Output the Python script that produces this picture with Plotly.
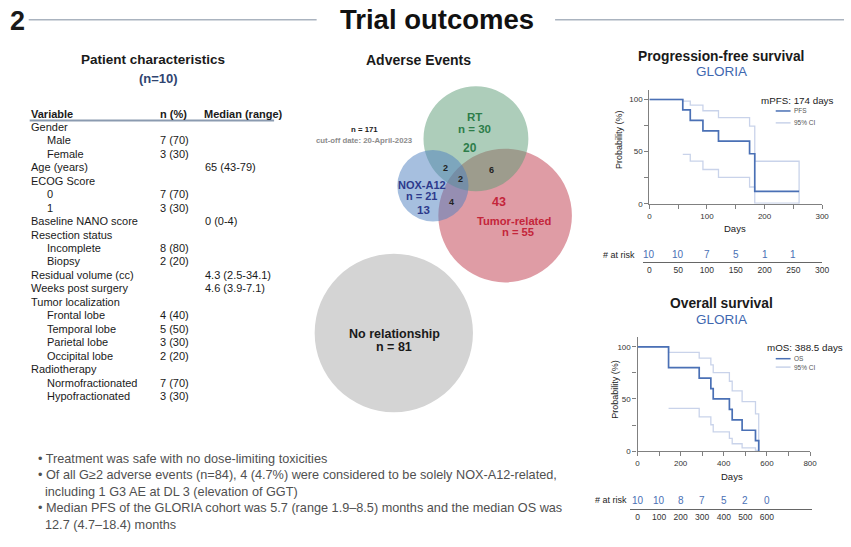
import plotly.graph_objects as go

W, H = 851, 547
FONT = "Liberation Sans, Arial, sans-serif"


def fx(x):
    return x / W


def fy(y):
    return 1 - y / H


# ---------------- data ----------------
# Patient characteristics table
table_variables = [
    "Gender", "Male", "Female", "Age (years)", "ECOG Score", "0", "1",
    "Baseline NANO score", "Resection status", "Incomplete", "Biopsy",
    "Residual volume (cc)", "Weeks post surgery", "Tumor localization",
    "Frontal lobe", "Temporal lobe", "Parietal lobe", "Occipital lobe",
    "Radiotherapy", "Normofractionated", "Hypofractionated",
]
table_indent = [0, 1, 1, 0, 0, 1, 1, 0, 0, 1, 1, 0, 0, 0, 1, 1, 1, 1, 0, 1, 1]
table_n_pct = ["", "7 (70)", "3 (30)", "", "", "7 (70)", "3 (30)", "", "",
               "8 (80)", "2 (20)", "", "", "", "4 (40)", "5 (50)", "3 (30)",
               "2 (20)", "", "7 (70)", "3 (30)"]
table_median = ["", "", "", "65 (43-79)", "", "", "", "0 (0-4)", "", "", "",
                "4.3 (2.5-34.1)", "4.6 (3.9-7.1)", "", "", "", "", "", "", "", ""]

# Adverse events Venn regions
venn_sets = ["RT", "NOX-A12", "Tumor-related"]
venn_only = [20, 13, 43]                 # RT only, NOX only, Tumor only
venn_rt_nox = 2
venn_rt_tumor = 6
venn_nox_tumor = 4
venn_all_three = 2
venn_no_relationship = 81
cutoff_text = "cut-off date: 20-April-2023"

# Progression-free survival (Kaplan-Meier, %)
pfs_days = [0, 58, 71, 93, 120, 174, 183, 260]
pfs_prob = [100, 90, 80, 70, 60, 48, 12, 12]
pfs_ci_up_days = [0, 58, 71, 93, 120, 174, 183, 260]
pfs_ci_up = [100, 98.5, 94.6, 89.2, 82.7, 74.5, 40.8, 0]
pfs_ci_lo_days = [58, 71, 93, 120, 174, 183, 260]
pfs_ci_lo = [47.3, 40.9, 32.9, 25.3, 16.1, 0.7, 0.7]
pfs_risk_days = [0, 50, 100, 150, 200, 250]
pfs_risk_n = [10, 10, 7, 5, 1, 1]

# Overall survival (Kaplan-Meier, %)
os_days = [0, 144, 286, 340, 351, 426, 439, 485, 547, 562]
os_prob = [100, 80, 70, 60, 50, 40, 30, 20, 10, 0]
os_ci_up = [100, 94.6, 89.2, 82.7, 75.3, 67.0, 57.8, 47.5, 35.8, 0]
os_ci_lo_days = [144, 286, 340, 351, 426, 439, 485, 547, 562]
os_ci_lo = [40.9, 32.9, 25.3, 18.4, 12.3, 7.1, 3.1, 0.6, 0.6]
os_risk_days = [0, 100, 200, 300, 400, 500, 600]
os_risk_n = [10, 10, 8, 7, 5, 2, 0]

bullets = [
    ("• Treatment was safe with no dose-limiting toxicities", 0),
    ("• Of all G≥2 adverse events (n=84), 4 (4.7%) were considered to be solely NOX-A12-related,", 0),
    ("including 1 G3 AE at DL 3 (elevation of GGT)", 1),
    ("• Median PFS of the GLORIA cohort was 5.7 (range 1.9–8.5) months and the median OS was", 0),
    ("12.7 (4.7–18.4) months", 1),
]

# ---------------- styles ----------------
KM_BLUE = "#4a70b5"
CI_BLUE = "#c9d3ea"
AXIS_GREY = "#808080"
TEXT_DARK = "#1a1a1a"

fig = go.Figure()
annotations = []
shapes = []


def text(x, y, s, size=11, color=TEXT_DARK, bold=False, xanchor="left",
         yanchor="middle", angle=0, xref="paper"):
    annotations.append(dict(
        x=fx(x) if xref == "paper" else x, y=fy(y), xref=xref, yref="paper",
        showarrow=False, text=f"<b>{s}</b>" if bold else s,
        xanchor=xanchor, yanchor=yanchor, borderpad=0, borderwidth=0,
        textangle=angle, font=dict(size=size, color=color, family=FONT)))


def hline(x0, x1, y, color, width):
    shapes.append(dict(type="line", xref="paper", yref="paper",
                       x0=fx(x0), x1=fx(x1), y0=fy(y), y1=fy(y),
                       line=dict(color=color, width=width)))


def circle(cx, cy, r, color, opacity):
    shapes.append(dict(type="circle", xref="paper", yref="paper",
                       x0=fx(cx - r), x1=fx(cx + r), y0=fy(cy + r), y1=fy(cy - r),
                       fillcolor=color, opacity=opacity, line=dict(width=0)))


# ---------------- header ----------------
text(8, 21, "2", size=27, bold=True)
text(440, 20, "Trial outcomes", size=27.5, bold=True, xanchor="center", color="#111")
hline(27, 318, 20, "#aab3bf", 1.5)
hline(559, 851, 20, "#aab3bf", 1.5)

# ---------------- patient characteristics ----------------
text(153, 60, "Patient characteristics", size=13.5, bold=True, xanchor="center")
text(158, 79, "(n=10)", size=13, bold=True, color="#2f4470", xanchor="center")
text(29, 115, "Variable", size=11, bold=True)
text(160, 115, "n (%)", size=11, bold=True)
text(204, 115, "Median (range)", size=11, bold=True)
hline(28, 275, 121.5, "#8b9bb0", 2)
row_y0, row_step = 128, 13.59
for i, var in enumerate(table_variables):
    y = row_y0 + i * row_step
    text(45 if table_indent[i] else 29, y, var, size=11)
    if table_n_pct[i]:
        text(160, y, table_n_pct[i], size=11)
    if table_median[i]:
        text(205, y, table_median[i], size=11)

# ---------------- adverse events Venn ----------------
text(421, 61, "Adverse Events", size=14, bold=True, xanchor="center")
total_events = (sum(venn_only) + venn_rt_nox + venn_rt_tumor + venn_nox_tumor
                + venn_all_three + venn_no_relationship)
set_totals = [
    venn_only[0] + venn_rt_nox + venn_rt_tumor + venn_all_three,
    venn_only[1] + venn_rt_nox + venn_nox_tumor + venn_all_three,
    venn_only[2] + venn_rt_tumor + venn_nox_tumor + venn_all_three,
]
circle(396, 336, 80, "#d4d4d4", 1.0)
circle(508.5, 217.5, 67.5, "#c03a4b", 0.5)
circle(479, 140, 53, "#5c9c76", 0.5)
circle(435.5, 187.5, 36, "#4d7fbf", 0.5)

text(366, 131, f"n = {total_events}", size=7.8, bold=True, xanchor="center")
text(366, 142, cutoff_text, size=7.8, bold=True, color="#8c8c8c", xanchor="center")

GREEN_T, NAVY_T, RED_T = "#2e7d4a", "#2d3a8c", "#c4253a"
text(478, 118.5, venn_sets[0], size=11.5, bold=True, color=GREEN_T, xanchor="center")
text(478, 130.5, f"n = {set_totals[0]}", size=11.5, bold=True, color=GREEN_T, xanchor="center")
text(473, 149, str(venn_only[0]), size=12, bold=True, color=GREEN_T, xanchor="center")

text(424, 187, venn_sets[1], size=11, bold=True, color=NAVY_T, xanchor="center")
text(424, 197.5, f"n = {set_totals[1]}", size=11, bold=True, color=NAVY_T, xanchor="center")
text(426, 212, str(venn_only[1]), size=11.5, bold=True, color=NAVY_T, xanchor="center")

text(502, 203.5, str(venn_only[2]), size=12.5, bold=True, color=RED_T, xanchor="center")
text(518, 223, venn_sets[2], size=11.2, bold=True, color=RED_T, xanchor="center")
text(522, 234, f"n = {set_totals[2]}", size=11.2, bold=True, color=RED_T, xanchor="center")

text(448.5, 170, str(venn_rt_nox), size=9, bold=True, color="#222", xanchor="center")
text(463.5, 180.5, str(venn_all_three), size=9, bold=True, color="#222", xanchor="center")
text(495, 171.5, str(venn_rt_tumor), size=9, bold=True, color="#222", xanchor="center")
text(454.5, 203.5, str(venn_nox_tumor), size=9, bold=True, color="#222", xanchor="center")

text(396.5, 337, "No relationship", size=12.5, bold=True, xanchor="center")
text(396.5, 350.5, f"n = {venn_no_relationship}", size=12.5, bold=True, xanchor="center")

# ---------------- bullet notes ----------------
for i, (line, indent) in enumerate(bullets):
    text(43.5 if indent else 36, 463 + i * 16.6, line, size=12.7, color="#505050")


# ---------------- Kaplan-Meier panels ----------------
def km_axis(domain_x, domain_y, xmax, major, labelled, anchor):
    ticks = list(range(0, xmax + 1, major))
    return (
        dict(domain=domain_x, range=[0, xmax], anchor=anchor[1], tickvals=ticks,
             ticktext=[str(t) if t % labelled == 0 else "" for t in ticks],
             ticks="outside", ticklen=4, tickcolor=AXIS_GREY, showline=True,
             linecolor=AXIS_GREY, linewidth=1.3, showgrid=False, zeroline=False,
             tickfont=dict(size=8, color="#333")),
        dict(domain=domain_y, range=[0, 109], anchor=anchor[0],
             tickvals=[0, 25, 50, 75, 100], ticktext=["0", "", "50", "", "100"],
             ticks="outside", ticklen=4, tickcolor=AXIS_GREY, showline=True,
             linecolor=AXIS_GREY, linewidth=1.3, showgrid=False, zeroline=False,
             tickfont=dict(size=8, color="#333")),
    )


def risk_axis(domain_x, rng, ticks, anchor):
    return (
        dict(domain=domain_x, range=rng, anchor=anchor, tickvals=ticks,
             ticktext=[str(t) for t in ticks], showline=True, linecolor="#666",
             linewidth=1.4, ticks="", showgrid=False, zeroline=False,
             tickfont=dict(size=8.5, color="#333")),
    )


# PFS main + risk
px0, ppd = 654.3, 0.582
xa, ya = km_axis([fx(px0), fx(px0 + 300 * ppd)], [fy(205.7), fy(205.7 - 109 * 1.053)],
                 300, 50, 100, ("x", "y"))
xa2, = risk_axis([fx(648), fx(px0 + 300 * ppd)], [(648 - px0) / ppd, 300],
                 list(range(0, 301, 50)), "y2")
ya2 = dict(domain=[fy(264.3), fy(249.7)], range=[0, 1], visible=False, anchor="x2")

# OS main + risk
ox0, opd = 642.3, 0.218
xa3, ya3 = km_axis([fx(ox0), fx(ox0 + 800 * opd)], [fy(455.3), fy(455.3 - 109 * 1.053)],
                   800, 100, 200, ("x3", "y3"))
xa4, = risk_axis([fx(635), fx(818.3)], [(635 - ox0) / opd, (818.3 - ox0) / opd],
                 list(range(0, 601, 100)), "y4")
ya4 = dict(domain=[fy(513.3), fy(497)], range=[0, 1], visible=False, anchor="x4")


def step(x, y, color, width, xaxis, yaxis):
    fig.add_trace(go.Scatter(x=x, y=y, mode="lines", line_shape="hv",
                             line=dict(color=color, width=width),
                             xaxis=xaxis, yaxis=yaxis, showlegend=False,
                             hoverinfo="skip"))


step(pfs_ci_up_days, pfs_ci_up, CI_BLUE, 1.3, "x", "y")
step(pfs_ci_lo_days, pfs_ci_lo, CI_BLUE, 1.3, "x", "y")
step(pfs_days, pfs_prob, KM_BLUE, 1.7, "x", "y")

step(os_days, os_ci_up, CI_BLUE, 1.3, "x3", "y3")
step(os_ci_lo_days, os_ci_lo, CI_BLUE, 1.3, "x3", "y3")
step(os_days, os_prob, KM_BLUE, 1.7, "x3", "y3")

# numbers at risk, placed on the risk-table day axes
for d, n in zip(pfs_risk_days, pfs_risk_n):
    text(d, 256.5, str(n), size=10, color=KM_BLUE, xanchor="center", xref="x2")
for d, n in zip(os_risk_days, os_risk_n):
    text(d, 505, str(n), size=10, color=KM_BLUE, xanchor="center", xref="x4")

# PFS labels
text(727, 57, "Progression-free survival", size=13.8, bold=True, xanchor="center")
text(727, 72.5, "GLORIA", size=13.5, color="#3f68b0", xanchor="center")
text(623, 141, "Probability (%)", size=9, angle=-90, xanchor="center")
text(741, 231, "Days", size=9.5, xanchor="center")
text(767, 101, "mPFS: 174 days", size=9.8, color="#222")
hline(782, 797, 112, KM_BLUE, 1.5)
text(800, 112, "PFS", size=6.5, color="#555")
hline(782, 797, 124, CI_BLUE, 1.5)
text(800, 124, "95% CI", size=6.5, color="#555")
text(640, 257, "# at risk", size=9, color="#222", xanchor="right")

# OS labels
text(727, 306.5, "Overall survival", size=13.8, bold=True, xanchor="center")
text(727, 322, "GLORIA", size=13.5, color="#3f68b0", xanchor="center")
text(620, 393, "Probability (%)", size=9, angle=-90, xanchor="center")
text(738, 481, "Days", size=9.5, xanchor="center")
text(773, 351, "mOS: 388.5 days", size=9.8, color="#222")
hline(782, 797, 362, KM_BLUE, 1.5)
text(800, 362, "OS", size=6.5, color="#555")
hline(782, 797, 370.5, CI_BLUE, 1.5)
text(800, 370.5, "95% CI", size=6.5, color="#555")
text(632, 505, "# at risk", size=9, color="#222", xanchor="right")

fig.update_layout(
    width=W, height=H, margin=dict(l=0, r=0, t=0, b=0),
    paper_bgcolor="white", plot_bgcolor="rgba(0,0,0,0)",
    font=dict(family=FONT, color=TEXT_DARK),
    xaxis=xa, yaxis=ya, xaxis2=xa2, yaxis2=ya2,
    xaxis3=xa3, yaxis3=ya3, xaxis4=xa4, yaxis4=ya4,
    annotations=annotations, shapes=shapes, showlegend=False,
)

fig.write_html("out.html")
